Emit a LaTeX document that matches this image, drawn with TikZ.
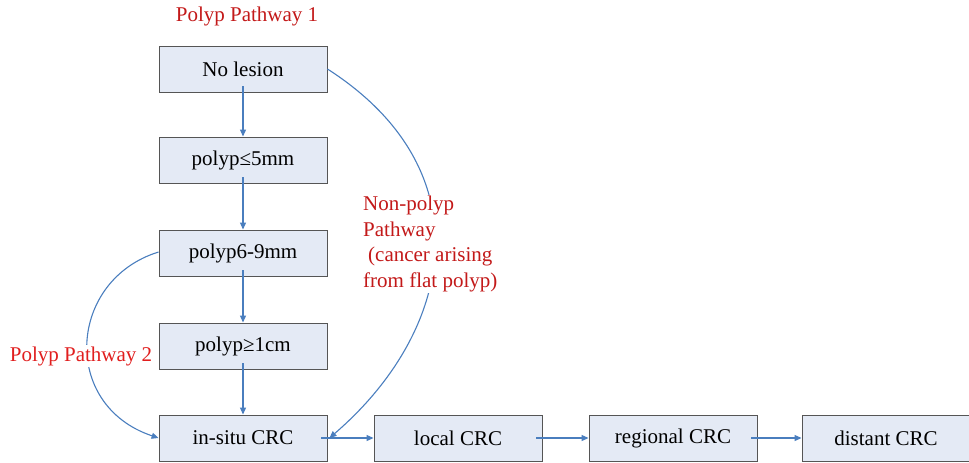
\documentclass[tikz,border=0pt]{standalone}
\usepackage{fontspec}
\setmainfont{Liberation Serif}
\newfontfamily\tnr{Liberation Serif}
\usetikzlibrary{arrows.meta}
\definecolor{boxfill}{RGB}{228,234,245}
\definecolor{boxline}{RGB}{85,85,85}
\definecolor{linkblue}{RGB}{74,126,190}
\definecolor{darkred}{RGB}{195,25,25}
\definecolor{brightred}{RGB}{225,30,30}
\begin{document}
\begin{tikzpicture}[x=1pt,y=-1pt,
  stagebox/.style={draw=boxline,fill=boxfill,line width=0.9pt,minimum width=168pt,minimum height=46pt,inner sep=0pt,font=\tnr\fontsize{21}{25}\selectfont},
  link/.style={draw=linkblue,line width=1.1pt,-{Triangle[length=7pt,width=6pt]}},
  redlabel/.style={font=\tnr\fontsize{21}{25.5}\selectfont,inner sep=2pt}]
\useasboundingbox (0,0) rectangle (969,463);
\node[stagebox] (nl) at (243,69) {No lesion};
\node[stagebox] (p5) at (243,160) {polyp≤5mm};
\node[stagebox] (p69) at (243,253) {polyp6-9mm};
\node[stagebox] (p1) at (243,346) {polyp≥1cm};
\node[stagebox] (is) at (243,438) {in-situ CRC};
\node[stagebox] (lc) at (458,438) {local CRC};
\node[stagebox] (rc) at (673,438) {regional CRC};
\node[stagebox] (dc) at (886,438) {distant CRC};
\draw[link,shorten <=-6pt] (nl) -- (p5);
\draw[link,shorten <=-6pt] (p5) -- (p69);
\draw[link,shorten <=-6pt] (p69) -- (p1);
\draw[link,shorten <=-6pt] (p1) -- (is);
\draw[link,shorten <=-6pt] (is) -- (lc);
\draw[link,shorten <=-6pt] (lc) -- (rc);
\draw[link,shorten <=-6pt] (rc) -- (dc);
\draw[link] (nl.east) .. controls (485,170) and (455,330) .. ([xshift=2pt]is.east);
\draw[link] ([yshift=1pt]p69.west) .. controls (68,280) and (60,405) .. (is.west);
\node[redlabel,text=darkred] (t1) at (247,16) {Polyp Pathway 1};
\node[redlabel,text=brightred,fill=white,inner sep=1pt] (t2) at (81,356) {Polyp Pathway 2};
\node[redlabel,text=darkred,fill=white,align=left,anchor=west,inner sep=1pt] (t3) at (362,244) {Non-polyp\\Pathway\\\hspace{5pt}(cancer arising\\from flat polyp)};
\end{tikzpicture}
\end{document}
